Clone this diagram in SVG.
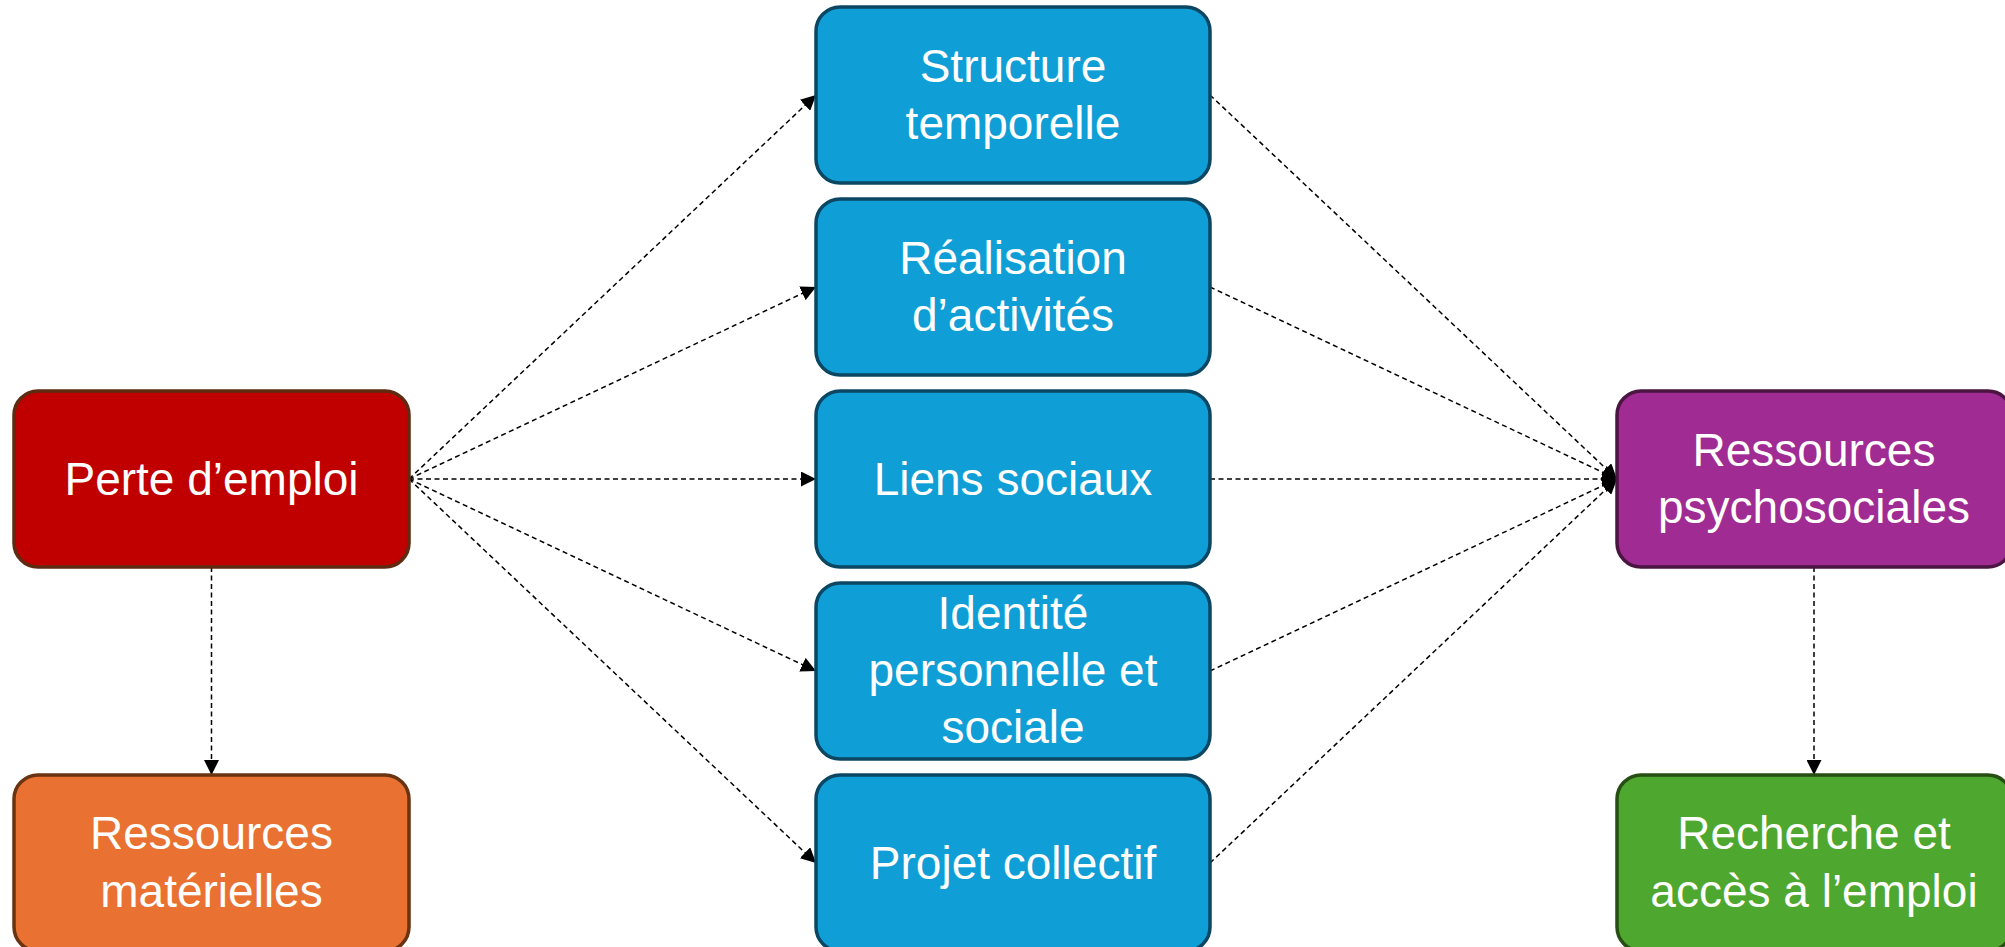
<svg xmlns="http://www.w3.org/2000/svg" width="2005" height="947" viewBox="0 0 2005 947">
<style>
.box{stroke-width:3.5}
.t{font-family:"Liberation Sans",Arial,sans-serif;font-size:46px;fill:#ffffff;text-anchor:middle}
.c{fill:none;stroke:#000;stroke-width:1.5;stroke-dasharray:5 3.5}
</style>
<defs>
<marker id="ah" markerUnits="userSpaceOnUse" markerWidth="15" markerHeight="15" viewBox="0 0 10 10" refX="10" refY="5" orient="auto">
<path d="M0,0 L10,5 L0,10 z" fill="#000"/>
</marker>
</defs>
<rect width="2005" height="947" fill="#ffffff"/>
<g id="connectors">
<line class="c" x1="409" y1="479" x2="816" y2="95" marker-end="url(#ah)"/>
<line class="c" x1="409" y1="479" x2="816" y2="287" marker-end="url(#ah)"/>
<line class="c" x1="409" y1="479" x2="816" y2="479" marker-end="url(#ah)"/>
<line class="c" x1="409" y1="479" x2="816" y2="671" marker-end="url(#ah)"/>
<line class="c" x1="409" y1="479" x2="816" y2="863" marker-end="url(#ah)"/>
<line class="c" x1="1210" y1="95" x2="1617" y2="479" marker-end="url(#ah)"/>
<line class="c" x1="1210" y1="287" x2="1617" y2="479" marker-end="url(#ah)"/>
<line class="c" x1="1210" y1="479" x2="1617" y2="479" marker-end="url(#ah)"/>
<line class="c" x1="1210" y1="671" x2="1617" y2="479" marker-end="url(#ah)"/>
<line class="c" x1="1210" y1="863" x2="1617" y2="479" marker-end="url(#ah)"/>
<line class="c" x1="211.5" y1="567" x2="211.5" y2="775" marker-end="url(#ah)"/>
<line class="c" x1="1814" y1="567" x2="1814" y2="775" marker-end="url(#ah)"/>
</g>
<g id="perte">
<rect class="box" x="14" y="391" width="395" height="176" rx="24" fill="#C00000" stroke="#5E2A12"/>
<text class="t" x="211.5" y="495">Perte d’emploi</text>
</g>
<g id="materielles">
<rect class="box" x="14" y="775" width="395" height="176" rx="24" fill="#E97132" stroke="#6A3311"/>
<text class="t" x="211.5" y="849">Ressources</text>
<text class="t" x="211.5" y="907">matérielles</text>
</g>
<g id="structure">
<rect class="box" x="816" y="7" width="394" height="176" rx="24" fill="#0F9ED5" stroke="#0B4763"/>
<text class="t" x="1013" y="82">Structure</text>
<text class="t" x="1013" y="139">temporelle</text>
</g>
<g id="realisation">
<rect class="box" x="816" y="199" width="394" height="176" rx="24" fill="#0F9ED5" stroke="#0B4763"/>
<text class="t" x="1013" y="274">Réalisation</text>
<text class="t" x="1013" y="331">d’activités</text>
</g>
<g id="liens">
<rect class="box" x="816" y="391" width="394" height="176" rx="24" fill="#0F9ED5" stroke="#0B4763"/>
<text class="t" x="1013" y="495">Liens sociaux</text>
</g>
<g id="identite">
<rect class="box" x="816" y="583" width="394" height="176" rx="24" fill="#0F9ED5" stroke="#0B4763"/>
<text class="t" x="1013" y="629">Identité</text>
<text class="t" x="1013" y="686">personnelle et</text>
<text class="t" x="1013" y="743">sociale</text>
</g>
<g id="projet">
<rect class="box" x="816" y="775" width="394" height="176" rx="24" fill="#0F9ED5" stroke="#0B4763"/>
<text class="t" x="1013" y="879">Projet collectif</text>
</g>
<g id="psychosociales">
<rect class="box" x="1617" y="391" width="395" height="176" rx="24" fill="#A02B93" stroke="#4A1540"/>
<text class="t" x="1814" y="466">Ressources</text>
<text class="t" x="1814" y="523">psychosociales</text>
</g>
<g id="recherche">
<rect class="box" x="1617" y="775" width="395" height="176" rx="24" fill="#4EA72E" stroke="#274E13"/>
<text class="t" x="1814" y="849">Recherche et</text>
<text class="t" x="1814" y="907">accès à l’emploi</text>
</g>
</svg>
